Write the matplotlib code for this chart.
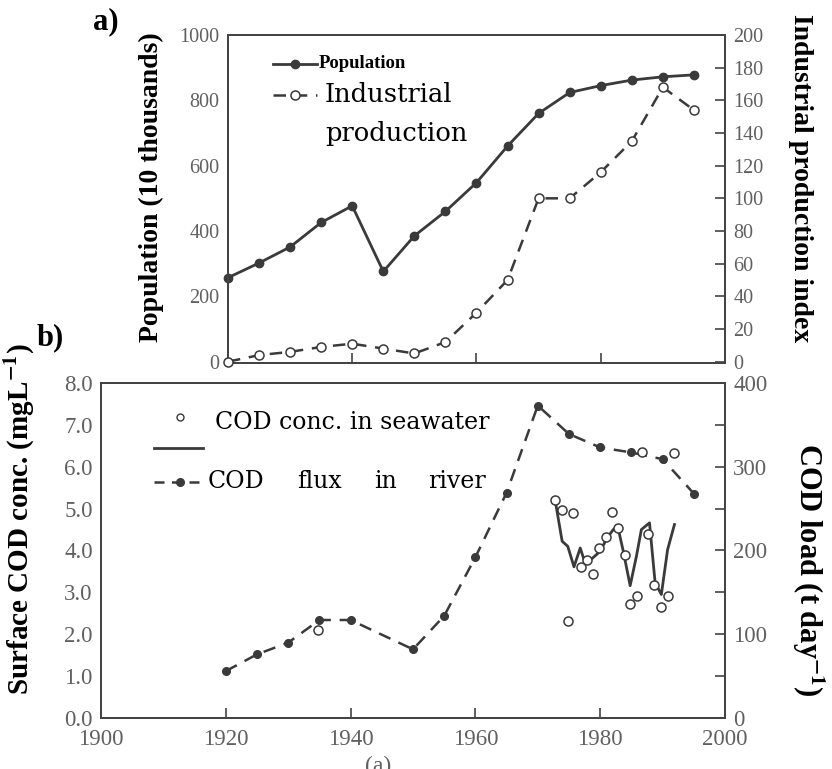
import matplotlib.pyplot as plt
from matplotlib.lines import Line2D

plt.rcParams['mathtext.fontset'] = 'stix'

# ---- panel a) data ----
years_a = [1920, 1925, 1930, 1935, 1940, 1945, 1950, 1955,
           1960, 1965, 1970, 1975, 1980, 1985, 1990, 1995]
population = [257, 302, 351, 426, 477, 276, 385, 460,
              548, 660, 760, 824, 845, 862, 872, 878]
industrial = [0, 4, 6, 9, 11, 8, 5, 12,
              30, 50, 100, 100, 116, 135, 168, 154]

# ---- panel b) data ----
flux_years = [1920, 1925, 1930, 1935, 1940, 1950, 1955, 1960,
              1965, 1970, 1975, 1980, 1985, 1990, 1995]
cod_flux = [56, 76, 90, 117, 117, 82, 122, 192,
            269, 373, 339, 323, 317, 309, 268]

sea_years = [1934.8, 1972.8, 1973.9, 1975.7, 1974.9, 1976.9, 1977.9, 1978.8,
             1979.8, 1980.9, 1981.9, 1982.8, 1983.9, 1984.8, 1985.9, 1986.7,
             1987.7, 1988.7, 1989.8, 1990.8, 1991.8]
sea_conc = [2.09, 5.20, 4.97, 4.90, 2.32, 3.61, 3.77, 3.43,
            4.05, 4.32, 4.92, 4.53, 3.89, 2.73, 2.91, 6.34,
            4.40, 3.17, 2.64, 2.91, 6.32]

line_years = [1972.8, 1973.9, 1974.8, 1975.8, 1976.8, 1977.6, 1978.4, 1980.0,
              1981.1, 1982.1, 1982.8, 1983.7, 1984.8, 1985.8, 1986.6, 1987.9,
              1988.8, 1989.8, 1990.8, 1991.9]
line_conc = [5.18, 4.22, 4.10, 3.61, 4.06, 3.69, 3.77, 3.98,
             4.30, 4.50, 4.58, 3.98, 3.16, 3.86, 4.50, 4.66,
             3.23, 2.95, 4.02, 4.62]

ink = '#3a3a3a'
tick_col = '#606060'
serif = 'Liberation Serif'

fig = plt.figure(figsize=(8.32, 7.69), dpi=100)

def style_axes(ax, size):
    for s in ax.spines.values():
        s.set_color('#444444')
        s.set_linewidth(1.4)
    ax.tick_params(direction='in', colors='#444444', labelcolor=tick_col,
                   labelsize=size, length=7, width=1.2)
    for lab in ax.get_xticklabels() + ax.get_yticklabels():
        lab.set_family(serif)

def put_ylabel(ax, text, size, x, y, rot):
    ax.set_ylabel(text, fontfamily=serif, fontweight='bold', fontsize=size,
                  rotation=rot)
    ax.yaxis.label.set_verticalalignment('center')
    ax.yaxis.label.set_horizontalalignment('center')
    ax.yaxis.set_label_coords(x, y)

# ================= panel a =================
axa = fig.add_axes([0.274, 0.528, 0.5974, 0.4265])
axa2 = axa.twinx()
axa.plot(years_a, population, '-', color=ink, lw=2, marker='o', ms=6,
         mfc=ink, mec=ink, clip_on=False, zorder=3)
axa2.plot(years_a, industrial, color=ink, lw=1.8, ls=(0, (5, 3.5)), marker='o',
          ms=6.5, mfc='white', mec=ink, mew=1.1, clip_on=False, zorder=3)
axa.set_xlim(1920, 2000)
axa.set_ylim(-4, 1000)
axa2.set_ylim(-0.8, 200)
axa.set_xticks([1940, 1960, 1980])
axa.set_xticklabels([])
axa.set_yticks(range(0, 1001, 200))
axa2.set_yticks(range(0, 201, 20))
style_axes(axa, 14.5)
style_axes(axa2, 14.5)
axa.tick_params(axis='y', length=0, pad=6)
axa2.tick_params(axis='y', pad=6)
put_ylabel(axa, 'Population (10 thousands)', 20, -0.153, 0.535, 90)
put_ylabel(axa2, 'Industrial production index', 20, 1.151, 0.5625, 270)

# legend of panel a
ta = axa.transAxes
axa.add_line(Line2D([0.09, 0.135, 0.18], [0.913, 0.913, 0.913], transform=ta,
                    color=ink, lw=2, marker='o', markevery=[1], ms=6))
axa.add_line(Line2D([0.09, 0.135, 0.18], [0.818, 0.818, 0.818], transform=ta,
                    color=ink, lw=1.8, ls=(0, (5, 3.5)), marker='o', markevery=[1],
                    ms=6.5, mfc='white', mew=1.1))
axa.text(0.183, 0.913, 'Population', transform=ta, fontfamily=serif,
         fontweight='bold', fontsize=13.5, va='center')
axa.text(0.195, 0.818, 'Industrial', transform=ta, fontfamily='DejaVu Serif',
         fontsize=18.5, va='center')
axa.text(0.195, 0.700, 'production', transform=ta, fontfamily='DejaVu Serif',
         fontsize=18.5, va='center')

# ================= panel b =================
axb = fig.add_axes([0.1214, 0.0663, 0.75, 0.4357])
axb2 = axb.twinx()
axb2.plot(flux_years, cod_flux, color=ink, lw=1.8, ls=(0, (5, 3.5)), marker='o',
          ms=5.5, mfc=ink, mec=ink, zorder=3)
axb.plot(line_years, line_conc, '-', color=ink, lw=2, zorder=3)
axb.plot(sea_years, sea_conc, 'o', ms=6.5, mfc='white', mec=ink, mew=1.1,
         zorder=4)
axb.set_zorder(axb2.get_zorder() + 1)
axb.patch.set_visible(False)
axb.set_xlim(1900, 2000)
axb.set_ylim(0, 8)
axb2.set_ylim(0, 400)
axb.set_xticks(range(1900, 2001, 20))
axb.set_yticks([i * 1.0 for i in range(9)])
axb.set_yticklabels([f'{i:.1f}' for i in range(9)])
axb2.set_yticks(range(0, 401, 50))
axb2.set_yticklabels([str(v) if v % 100 == 0 else '' for v in range(0, 401, 50)])
style_axes(axb, 16.5)
style_axes(axb2, 16.5)
axb.tick_params(axis='y', length=0, pad=6)
axb.tick_params(axis='x', pad=8)
axb2.tick_params(axis='y', pad=6)
put_ylabel(axb, r'Surface COD conc. (mgL$^{\mathbf{-1}}$)', 21, -0.130, 0.594, 90)
put_ylabel(axb2, r'COD load (t day$^{\mathbf{-1}}$)', 22, 1.133, 0.442, 270)

# legend of panel b
tb = axb.transAxes
axb.plot([0.127], [0.899], 'o', transform=tb, ms=5, mfc='white', mec=ink, mew=1)
axb.add_line(Line2D([0.085, 0.164], [0.807, 0.807], transform=tb, color=ink, lw=2))
axb.add_line(Line2D([0.085, 0.127, 0.164], [0.705, 0.705, 0.705], transform=tb,
                    color=ink, lw=1.8, ls=(0, (4, 3)), marker='o', markevery=[1],
                    ms=5.5))
axb.text(0.183, 0.882, 'COD conc. in seawater', transform=tb,
         fontfamily='DejaVu Serif', fontsize=17, va='center')
for word, xw in [('COD', 0.171), ('flux', 0.314), ('in', 0.437), ('river', 0.524)]:
    axb.text(xw, 0.707, word, transform=tb, fontfamily='DejaVu Serif',
             fontsize=17, va='center')

# panel letters
fig.text(0.112, 0.972, 'a)', fontfamily=serif, fontweight='bold', fontsize=22,
         va='center')
fig.text(0.044, 0.561, 'b)', fontfamily=serif, fontweight='bold', fontsize=22,
         va='center')
fig.text(0.455, 0.017, '(a)', fontfamily=serif, fontsize=17, color=tick_col,
         va='top', ha='center')

fig.savefig('out.png', dpi=100)
